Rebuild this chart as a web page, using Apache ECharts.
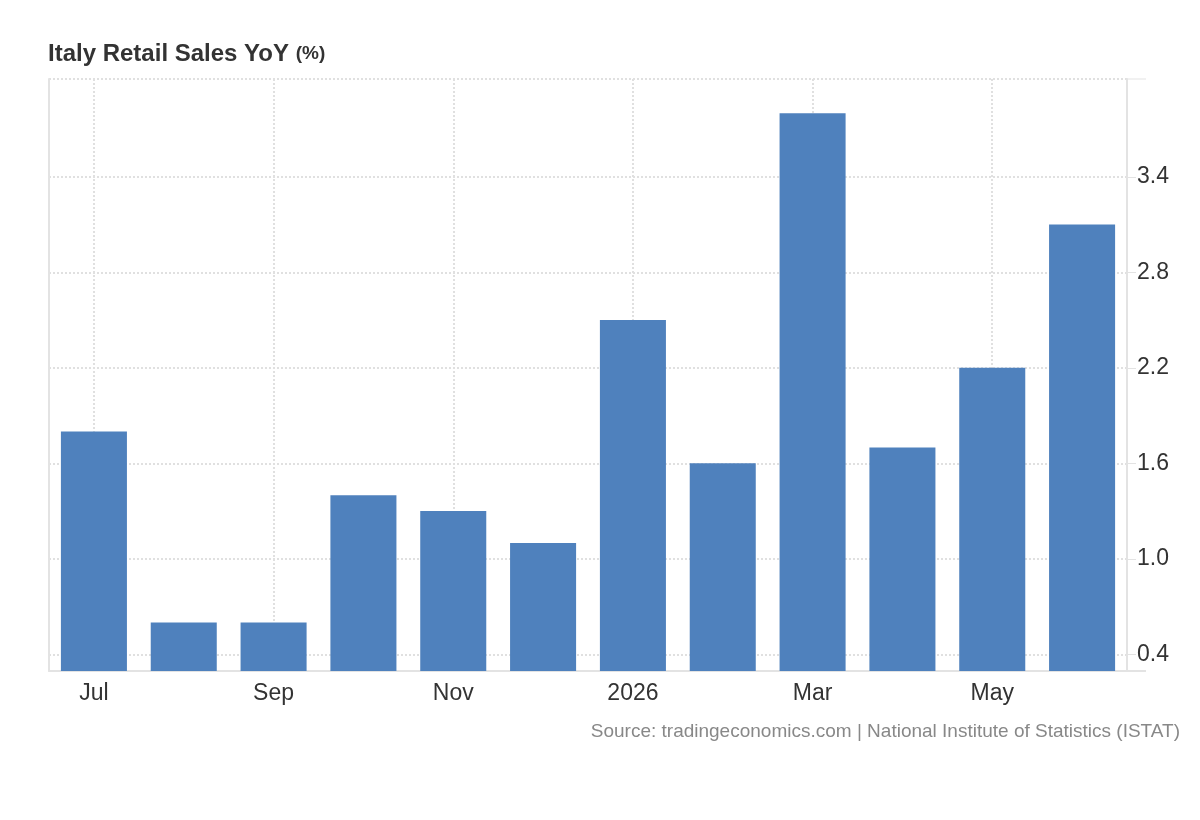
<!DOCTYPE html>
<html><head><meta charset="utf-8">
<script src="https://cdn.jsdelivr.net/npm/echarts@6/dist/echarts.min.js"></script>
<style>html,body{margin:0;padding:0;background:#fff}#c{width:1200px;height:820px}</style>
</head><body><div id="c"></div>
<script>
const categories = ['Jul','Aug','Sep','Oct','Nov','Dec','2026','Feb','Mar','Apr','May','Jun'];
const retailSalesYoY = [1.8,0.6,0.6,1.4,1.3,1.1,2.5,1.6,3.8,1.7,2.2,3.1];
const yTickLabels = [0.4,1.0,1.6,2.2,2.8,3.4];
const yGridValues = [0.4,1.0,1.6,2.2,2.8,3.4];
const yMin = 0.295, yMax = 4.015;

const FONT = 'Liberation Sans, Arial, sans-serif';
const GRID = {left:49, right:73, top:79, bottom:149};
const chart = echarts.init(document.getElementById('c'), null, {renderer:'canvas'});
const W = 1200, H = 820;
const rightX = W - GRID.right, bottomY = H - GRID.bottom;
const gridLine = {color:'#e0e0e0', type:[2,2], width:2};

chart.setOption({
  animation:false,
  backgroundColor:'#fff',
  title:{
    text:'Italy Retail Sales YoY {u|(%)}',
    left:43, top:37,
    textStyle:{fontFamily:FONT, fontSize:24, fontWeight:'bold', color:'#333',
      rich:{u:{fontFamily:FONT, fontSize:19, fontWeight:'bold', color:'#333'}}}
  },
  grid:GRID,
  xAxis:{
    type:'category', data:categories, boundaryGap:true,
    axisLine:{show:true, lineStyle:{color:'#e3e3e3', width:2}},
    axisTick:{show:false},
    axisLabel:{interval:1, color:'#333', fontFamily:FONT, fontSize:23, margin:11},
    splitLine:{show:true, interval:1, alignWithLabel:true, lineStyle:gridLine}
  },
  yAxis:[{
    type:'value', position:'right', min:yMin, max:yMax,
    axisLine:{show:true, lineStyle:{color:'#e3e3e3', width:2}},
    axisTick:{show:true, customValues:yGridValues, length:9, lineStyle:{color:'#e3e3e3', width:1}},
    axisLabel:{customValues:yTickLabels, color:'#333', fontFamily:FONT, fontSize:23, margin:10,
      formatter:v=>Number(v).toFixed(1)},
    splitLine:{show:true, lineStyle:gridLine}
  },{
    type:'value', position:'left', min:yMin, max:yMax,
    axisLine:{show:true, lineStyle:{color:'#e3e3e3', width:2}},
    axisTick:{show:false}, axisLabel:{show:false}, splitLine:{show:false}
  }],
  series:[{
    type:'bar', data:retailSalesYoY, yAxisIndex:0,
    barCategoryGap:'26.5%',
    itemStyle:{color:'#4f81bd'}
  }],
  graphic:[
    {type:'line', shape:{x1:GRID.left, y1:GRID.top, x2:rightX, y2:GRID.top}, style:{stroke:'#e0e0e0', lineWidth:2, lineDash:[2,2]}},
    {type:'line', shape:{x1:rightX, y1:GRID.top, x2:rightX+19, y2:GRID.top}, style:{stroke:'#e3e3e3', lineWidth:1}},
    {type:'line', shape:{x1:rightX, y1:bottomY, x2:rightX+19, y2:bottomY}, style:{stroke:'#e3e3e3', lineWidth:2}},
    {type:'text', right:20, top:722, style:{text:'Source: tradingeconomics.com | National Institute of Statistics (ISTAT)',
      font:'19px ' + FONT, fill:'#888'}}
  ]
});
</script></body></html>
